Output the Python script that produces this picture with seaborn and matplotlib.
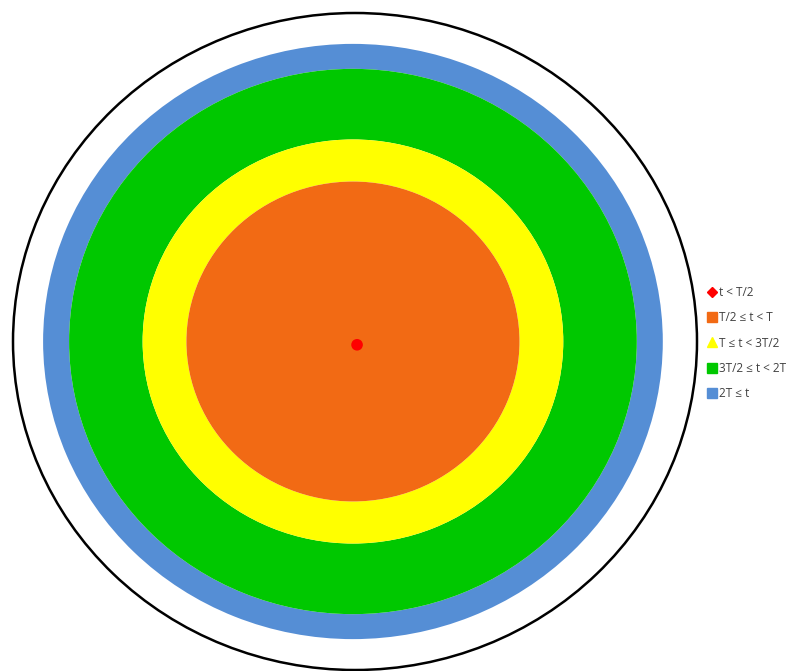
import matplotlib.pyplot as plt
import seaborn as sns
import pandas as pd
from matplotlib.patches import Wedge, Ellipse
from matplotlib.lines import Line2D

# arrival-time classes (outer radius of each band, circle radius = 1)
labels = ["t < T/2", "T/2 ≤ t < T", "T ≤ t < 3T/2", "3T/2 ≤ t < 2T", "2T ≤ t"]
band_inner = [0.0, 0.0, 0.487, 0.615, 0.830]
band_outer = [0.012, 0.487, 0.615, 0.830, 0.906]
colors = ["#FF0000", "#F26A14", "#FFFF00", "#00C800", "#558ED5"]
markers = ["D", "s", "^", "s", "s"]

# launch point
src = pd.DataFrame({"x": [0.006], "y": [-0.01]})

sns.set_style("white")
plt.rcParams['font.family'] = ['Open Sans', 'DejaVu Sans']

fig = plt.figure(figsize=(7.98, 6.71), dpi=100)
ax = fig.add_axes([13 / 798, 1 / 671, 684 / 798, 657 / 671])

# bands, drawn outermost first
for i in range(len(labels) - 1, 0, -1):
    ax.add_patch(Wedge((-0.006, 0), band_outer[i], 0, 360,
                       width=band_outer[i] - band_inner[i],
                       facecolor=colors[i], edgecolor='none'))

sns.scatterplot(data=src, x="x", y="y", ax=ax, color=colors[0],
                marker="o", s=70, edgecolor='none', zorder=5)

# boundary circle
ax.add_patch(Ellipse((0, 0), 2, 2, fill=False, edgecolor='black',
                     linewidth=1.8, clip_on=False))

ax.set_xlim(-1, 1)
ax.set_ylim(-1, 1)
ax.axis('off')

handles = [Line2D([], [], linestyle='none', marker=m, color=c, markersize=7 if m != "D" else 5.5)
           for m, c in zip(markers, colors)]
fig.legend(handles, labels, loc='upper left', bbox_to_anchor=(704 / 798, 1 - 281 / 671),
           frameon=False, fontsize=8.5, labelcolor='#404040', handlelength=0.6,
           handletextpad=0.3, labelspacing=1.05, borderaxespad=0)

fig.savefig('out.png', dpi=100)
